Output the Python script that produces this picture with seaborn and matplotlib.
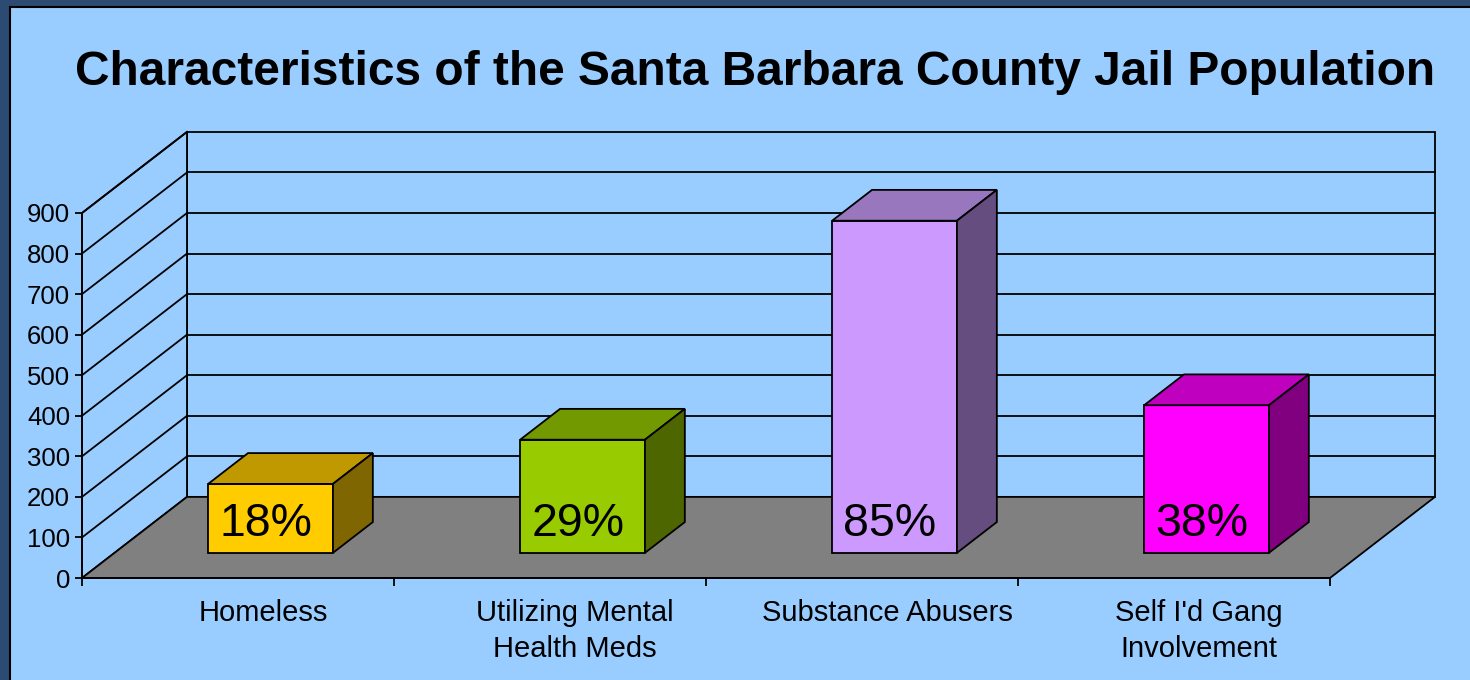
import matplotlib
matplotlib.use('Agg')
import matplotlib.pyplot as plt
import seaborn as sns
from matplotlib.patches import Polygon, Rectangle

# data
categories = ['Homeless', 'Utilizing Mental\nHealth Meds', 'Substance Abusers', "Self I'd Gang\nInvolvement"]
counts = [170, 279, 819, 364]
pct_labels = ['18%', '29%', '85%', '38%']
yticks = list(range(0, 1000, 100))
title = 'Characteristics of the Santa Barbara County Jail Population'

front_colors = ['#FFCC00', '#99CC00', '#CC99FF', '#FF00FF']
top_colors = ['#C09900', '#739900', '#9977BF', '#BF00BF']
side_colors = ['#806600', '#4D6600', '#664D80', '#800080']

plt.rcParams['font.family'] = ['Liberation Sans', 'DejaVu Sans']

W, H = 1470, 680
fig = plt.figure(figsize=(W / 100, H / 100), dpi=100, facecolor='#2C4B73')
fig.patches.append(Rectangle((10 / W, -0.1), 1, 1.1 - 7 / H, transform=fig.transFigure,
                             facecolor='#99CCFF', edgecolor='black', lw=1.5, zorder=-1))

# front plane of the 3D box
ax = fig.add_axes([82 / W, 102 / H, 1248 / W, 365 / H])
ax.set_facecolor('none')

sns.barplot(x=categories, y=counts, hue=categories, palette=front_colors, width=0.4,
            saturation=1, legend=False, edgecolor='black', linewidth=1.3, ax=ax)
bars = list(ax.patches)

# oblique depth offset (x in categories, y in value units)
DX, DY = 0.3365, 200
f0, fd = 0.31, 0.38
lw = 1.3

# walls and floor
ax.add_patch(Rectangle((-0.5 + DX, DY), 4, 900, facecolor='#99CCFF', edgecolor='black',
                       lw=lw, clip_on=False, zorder=0.2))
ax.add_patch(Polygon([(-0.5, 0), (-0.5, 900), (-0.5 + DX, 900 + DY), (-0.5 + DX, DY)],
                     closed=True, facecolor='#99CCFF', edgecolor='black', lw=lw,
                     clip_on=False, zorder=0.2))
for v in yticks[1:-1]:
    ax.plot([-0.5 + DX, 3.5 + DX], [v + DY, v + DY], color='black', lw=lw, clip_on=False, zorder=0.3)
for v in yticks[1:]:
    ax.plot([-0.5, -0.5 + DX], [v, v + DY], color='black', lw=lw, clip_on=False, zorder=0.3)
ax.add_patch(Polygon([(-0.5, 0), (3.5, 0), (3.5 + DX, DY), (-0.5 + DX, DY)], closed=True,
                     facecolor='#808080', edgecolor='black', lw=lw, clip_on=False, zorder=0.4))

# push bars into the box and give them a top and side
for i, p in enumerate(bars):
    p.set_x(p.get_x() + f0 * DX)
    p.set_y(f0 * DY)
    p.set_clip_on(False)
    p.set_zorder(2)
    x0 = p.get_x()
    x1 = x0 + p.get_width()
    yb = p.get_y()
    yt = yb + p.get_height()
    ddx, ddy = fd * DX, fd * DY
    ax.add_patch(Polygon([(x0, yt), (x1, yt), (x1 + ddx, yt + ddy), (x0 + ddx, yt + ddy)],
                         closed=True, facecolor=top_colors[i], edgecolor='black', lw=lw,
                         clip_on=False, zorder=2))
    ax.add_patch(Polygon([(x1, yb), (x1 + ddx, yb + ddy), (x1 + ddx, yt + ddy), (x1, yt)],
                         closed=True, facecolor=side_colors[i], edgecolor='black', lw=lw,
                         clip_on=False, zorder=2))
    ax.text((x0 + x1) / 2 - 0.015, yb + 42, pct_labels[i], ha='center', va='baseline',
            fontsize=33.5, zorder=3)

ax.set_xlim(-0.5, 3.5)
ax.set_ylim(0, 900)
ax.set_xlabel('')
ax.set_ylabel('')
ax.tick_params(axis='x', which='major', length=0, pad=15, labelsize=21)
ax.tick_params(axis='x', which='minor', length=6, width=lw, direction='out', bottom=True)
ax.tick_params(axis='y', length=5, width=lw, direction='out', pad=3.5, left=True, labelsize=18.5)
ax.set_yticks(yticks)
ax.set_yticklabels([str(v) for v in yticks], fontsize=18.5)
ax.set_xticks([i + 0.08 for i in range(4)])
ax.set_xticklabels(categories, fontsize=21, linespacing=1.38)
ax.set_xticks([i - 0.5 for i in range(5)], minor=True)
for s in ['top', 'right']:
    ax.spines[s].set_visible(False)
for s in ['left', 'bottom']:
    ax.spines[s].set_color('black')
    ax.spines[s].set_linewidth(lw)
    ax.spines[s].set_zorder(0.5)

fig.text(755 / W, 1 - 85 / H, title, ha='center', va='baseline', fontsize=34.5, fontweight='bold')

plt.savefig('out.png', dpi=100, facecolor=fig.get_facecolor())
